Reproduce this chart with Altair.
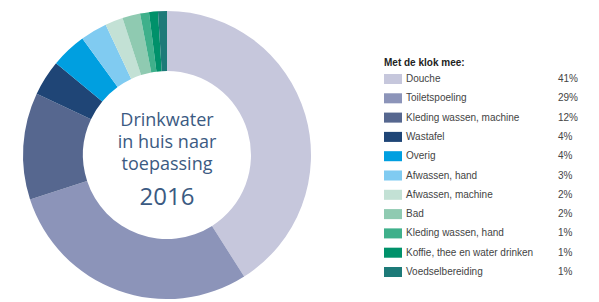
import altair as alt
import pandas as pd

categories = ["Douche", "Toiletspoeling", "Kleding wassen, machine", "Wastafel", "Overig",
              "Afwassen, hand", "Afwassen, machine", "Bad", "Kleding wassen, hand",
              "Koffie, thee en water drinken", "Voedselbereiding"]
values = [41, 29, 12, 4, 4, 3, 2, 2, 1, 1, 1]
pct_labels = ["41%", "29%", "12%", "4%", "4%", "3%", "2%", "2%", "1%", "1%", "1%"]
colors = ["#c6c7dc", "#8c94b9", "#56678f", "#1f4576", "#009fe0", "#80cbf1",
          "#c3e1d5", "#8fcab1", "#3fb08b", "#00916a", "#1d7a78"]
center_lines = ["Drinkwater", "in huis naar", "toepassing"]
year = "2016"
legend_title = "Met de klok mee:"

df = pd.DataFrame({"cat": categories, "value": values, "pct": pct_labels,
                   "idx": list(range(len(categories)))})
df["top"] = df["idx"] - 0.26
df["bot"] = df["idx"] + 0.26

color = alt.Color("cat:N", scale=alt.Scale(domain=categories, range=colors), legend=None)

arc = alt.Chart(df).mark_arc(outerRadius=144, innerRadius=84).encode(
    theta=alt.Theta("value:Q", stack=True),
    order=alt.Order("idx:Q", sort="ascending"),
    color=color,
    x=alt.value(167), y=alt.value(155),
)

yscale = alt.Scale(domain=[0, 10], range=[79, 272])

swatch = alt.Chart(df).mark_rect().encode(
    x=alt.value(384), x2=alt.value(402),
    y=alt.Y("top:Q", scale=yscale, axis=None),
    y2="bot:Q",
    color=color,
)

labels = alt.Chart(df).mark_text(align="left", baseline="middle", font="Liberation Sans",
                                 fontSize=10, color="#444444").encode(
    x=alt.value(406),
    y=alt.Y("idx:Q", scale=yscale, axis=None),
    text="cat:N",
)

pcts = alt.Chart(df).mark_text(align="left", baseline="middle", font="Liberation Sans",
                               fontSize=10, color="#444444").encode(
    x=alt.value(558),
    y=alt.Y("idx:Q", scale=yscale, axis=None),
    text="pct:N",
)

title_df = pd.DataFrame({"t": [legend_title]})
ltitle = alt.Chart(title_df).mark_text(align="left", baseline="middle", font="Liberation Sans",
                                       fontSize=10, fontWeight="bold", color="#222222").encode(
    x=alt.value(384), y=alt.value(63), text="t:N")

cl_df = pd.DataFrame({"t": center_lines, "yy": [121, 143, 165]})
center = alt.Chart(cl_df).mark_text(align="center", baseline="middle", font="Open Sans",
                                    fontSize=18, color="#3b5a82").encode(
    x=alt.value(167), y=alt.Y("yy:Q", scale=None), text="t:N")

yr_df = pd.DataFrame({"t": [year]})
yr = alt.Chart(yr_df).mark_text(align="center", baseline="middle", font="Open Sans",
                                fontSize=24, color="#3b5a82").encode(
    x=alt.value(167), y=alt.value(198), text="t:N")

chart = alt.layer(arc, swatch, labels, pcts, ltitle, center, yr).properties(
    width=599, height=302, autosize=alt.AutoSizeParams(type="none"), padding=0
).configure_view(stroke=None).resolve_scale(y="independent")

chart.save("out.html", embed_options={"renderer": "svg", "actions": False})
